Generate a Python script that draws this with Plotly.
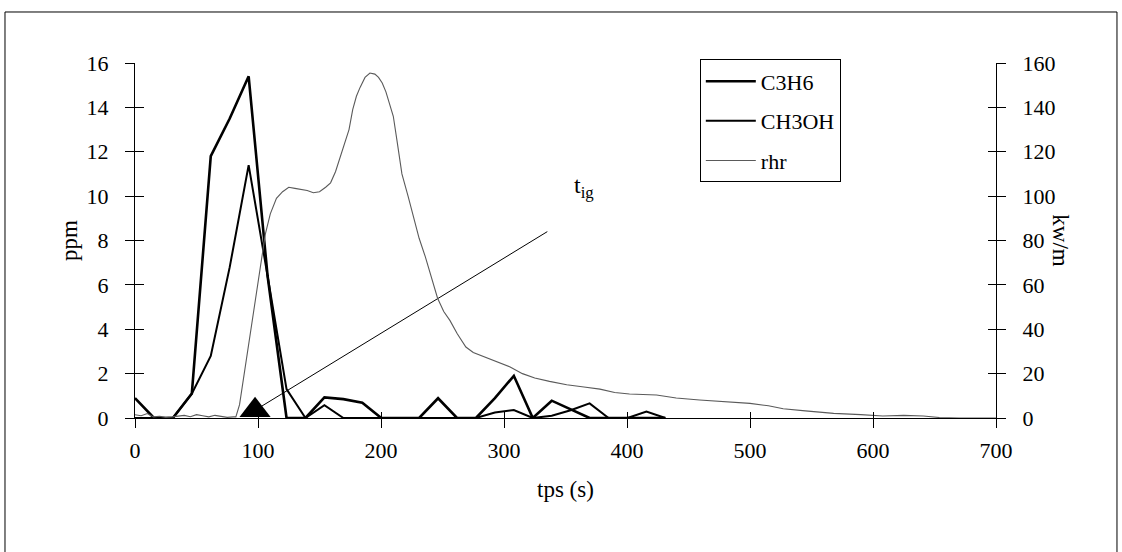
import plotly.graph_objects as go

# Gas concentrations (ppm), sampled every ~15.4 s
t_gas = [0, 15.4, 30.8, 46.2, 61.6, 77.0, 92.4, 107.8, 123.2, 138.6, 154.0, 169.4,
         184.8, 200.2, 215.6, 231.0, 246.4, 261.8, 277.2, 292.6, 308.0, 323.4,
         338.8, 354.2, 369.6, 385.0, 400.4, 415.8, 431.2]
c3h6 = [0.9, 0, 0, 1.1, 11.8, 13.5, 15.4, 6.4, 0, 0, 0.93, 0.85,
        0.69, 0, 0, 0, 0.89, 0, 0, 0.9, 1.9, 0,
        0.78, 0.4, 0, 0, 0, 0, 0]
ch3oh = [0, 0, 0, 1.1, 2.8, 6.8, 11.4, 6.4, 1.3, 0, 0.58, 0,
         0, 0, 0, 0, 0, 0, 0, 0.25, 0.36, 0,
         0.1, 0.35, 0.66, 0, 0, 0.29, 0]

# Rate of heat release (kW/m)
t_rhr = [0, 5, 10, 15, 20, 25, 30, 35, 40, 45, 50, 55, 60, 65, 70, 75, 80, 82,
         85, 90, 95, 100, 103, 106, 110, 115, 120, 125, 130, 135, 140, 145, 150,
         155, 159, 163, 167, 171, 174, 177, 180, 183, 187, 191, 195, 198, 201,
         204, 207, 210, 213, 217, 222, 226, 231, 236, 241, 246, 251, 256, 262,
         269, 275, 282, 289, 297, 305, 315, 325, 337, 351, 365, 378, 390, 402,
         424, 440, 459, 480, 500, 515, 527, 545, 568, 590, 608, 625, 641, 654,
         670, 700]
rhr = [1.5, 1.0, 2.0, 0.5, 0.8, 0.3, 0.5, 0.8, 1.2, 0.6, 1.5, 1.0, 0.5, 1.2,
       0.6, 0.3, 0.5, 0.5, 6, 24, 43, 62, 72, 83, 92, 99, 102, 104, 103.5, 103,
       102.5, 101.5, 102, 104, 106, 111, 118, 124, 130, 139, 145, 149, 153.5,
       155.5, 155, 153.5, 151, 147, 142, 136, 125, 110, 100, 91, 81, 72.7, 63,
       54, 48, 44, 38, 32, 29.5, 28, 26.5, 25, 23, 20, 18, 16.5, 15, 14, 13,
       11.5, 10.8, 10.4, 9, 8.1, 7.3, 6.6, 5.5, 4.2, 3.2, 2.1, 1.5, 0.9, 1.2,
       0.9, 0.2, 0, 0]

# Ignition time marker and its label leader
t_ig = 97.6
t_ig_y = 0.35
leader_end = (335.2, 8.4)
label_pos = (355, 10.4)

x_ticks = [0, 100, 200, 300, 400, 500, 600, 700]
ppm_ticks = [0, 2, 4, 6, 8, 10, 12, 14, 16]
rhr_ticks = [0, 20, 40, 60, 80, 100, 120, 140, 160]

FONT = "Liberation Serif"
FS = 22
fig = go.Figure()

fig.add_trace(go.Scatter(x=t_rhr, y=rhr, name="rhr", mode="lines", yaxis="y2",
                         line=dict(color="#5a5a5a", width=1.1),
                         legendgroup="c", legendrank=3))
fig.add_trace(go.Scatter(x=t_gas, y=c3h6, name="C3H6", mode="lines",
                         line=dict(color="black", width=2.6),
                         legendgroup="a", legendrank=1))
fig.add_trace(go.Scatter(x=t_gas, y=ch3oh, name="CH3OH", mode="lines",
                         line=dict(color="black", width=2.0),
                         legendgroup="b", legendrank=2))
fig.add_trace(go.Scatter(x=[t_ig, leader_end[0]], y=[t_ig_y, leader_end[1]],
                         mode="lines", line=dict(color="black", width=1),
                         showlegend=False, hoverinfo="skip"))
fig.add_trace(go.Scatter(x=[t_ig], y=[t_ig_y], mode="markers", showlegend=False,
                         marker=dict(symbol="triangle-up", size=27, color="black")))

tickfont = dict(family=FONT, size=FS, color="black")
common = dict(showgrid=False, zeroline=False, linecolor="black", linewidth=1,
              tickcolor="black", tickwidth=1)
inner = {k: v for k, v in common.items() if k != "linecolor"}

fig.update_layout(
    width=1122, height=552,
    margin=dict(l=135, r=126, t=63, b=134),
    paper_bgcolor="white", plot_bgcolor="white",
    font=dict(family=FONT, size=FS, color="black"),
    xaxis=dict(range=[0, 700], tickvals=x_ticks, showline=True, ticks="outside",
               ticklen=9, tickfont=tickfont, ticklabelstandoff=4, **common),
    xaxis2=dict(range=[0, 700], tickvals=x_ticks, overlaying="x", anchor="y",
                ticks="inside", ticklen=6, showticklabels=False, showline=False,
                **inner),
    yaxis=dict(range=[0, 16], tickvals=ppm_ticks, showline=True, ticks="outside",
               ticklen=9, tickfont=tickfont, ticklabelstandoff=12, **common),
    yaxis2=dict(range=[0, 160], tickvals=rhr_ticks, overlaying="y", side="right",
                anchor="x", showline=True, ticks="outside", ticklen=9,
                tickfont=tickfont, ticklabelstandoff=12, **common),
    yaxis3=dict(range=[0, 16], tickvals=ppm_ticks, overlaying="y", anchor="x",
                side="left", ticks="inside", ticklen=9, showticklabels=False,
                showline=False, **inner),
    yaxis4=dict(range=[0, 160], tickvals=rhr_ticks, overlaying="y", anchor="x",
                side="right", ticks="inside", ticklen=8, showticklabels=False,
                showline=False, **inner),
    legend=dict(x=0.656, y=1.01, xanchor="left", yanchor="top",
                bgcolor="white", bordercolor="black", borderwidth=1,
                font=dict(family=FONT, size=FS, color="black"),
                traceorder="grouped", tracegroupgap=8, itemwidth=50),
    showlegend=True,
)

# Invisible traces that carry the crossing (inside) tick marks
fig.add_trace(go.Scatter(x=[None], y=[None], xaxis="x2", yaxis="y", showlegend=False))
fig.add_trace(go.Scatter(x=[None], y=[None], xaxis="x", yaxis="y3", showlegend=False))
fig.add_trace(go.Scatter(x=[None], y=[None], xaxis="x", yaxis="y4", showlegend=False))

fig.add_annotation(x=label_pos[0], y=label_pos[1], xref="x", yref="y",
                   text="t<sub>ig</sub>", showarrow=False, xanchor="left",
                   font=dict(family=FONT, size=24, color="black"))
fig.add_annotation(x=-0.076, y=0.5, xref="paper", yref="paper", text="ppm",
                   textangle=-90, showarrow=False, xanchor="center", yanchor="middle",
                   font=dict(family=FONT, size=23, color="#000000"))
fig.add_annotation(x=1.0745, y=0.5, xref="paper", yref="paper", text="kw/m",
                   textangle=90, showarrow=False, xanchor="center", yanchor="middle",
                   font=dict(family=FONT, size=23, color="#000000"))
fig.add_annotation(x=0.5, y=-0.2, xref="paper", yref="paper", text="tps (s)",
                   showarrow=False, xanchor="center", yanchor="middle",
                   font=dict(family=FONT, size=23, color="#000000"))

# Outer frame around the whole chart
fig.add_shape(type="rect", xref="paper", yref="paper",
              x0=-0.151, x1=1.1405, y0=-0.45, y1=1.1437,
              line=dict(color="black", width=1))

fig.write_html("out.html")
